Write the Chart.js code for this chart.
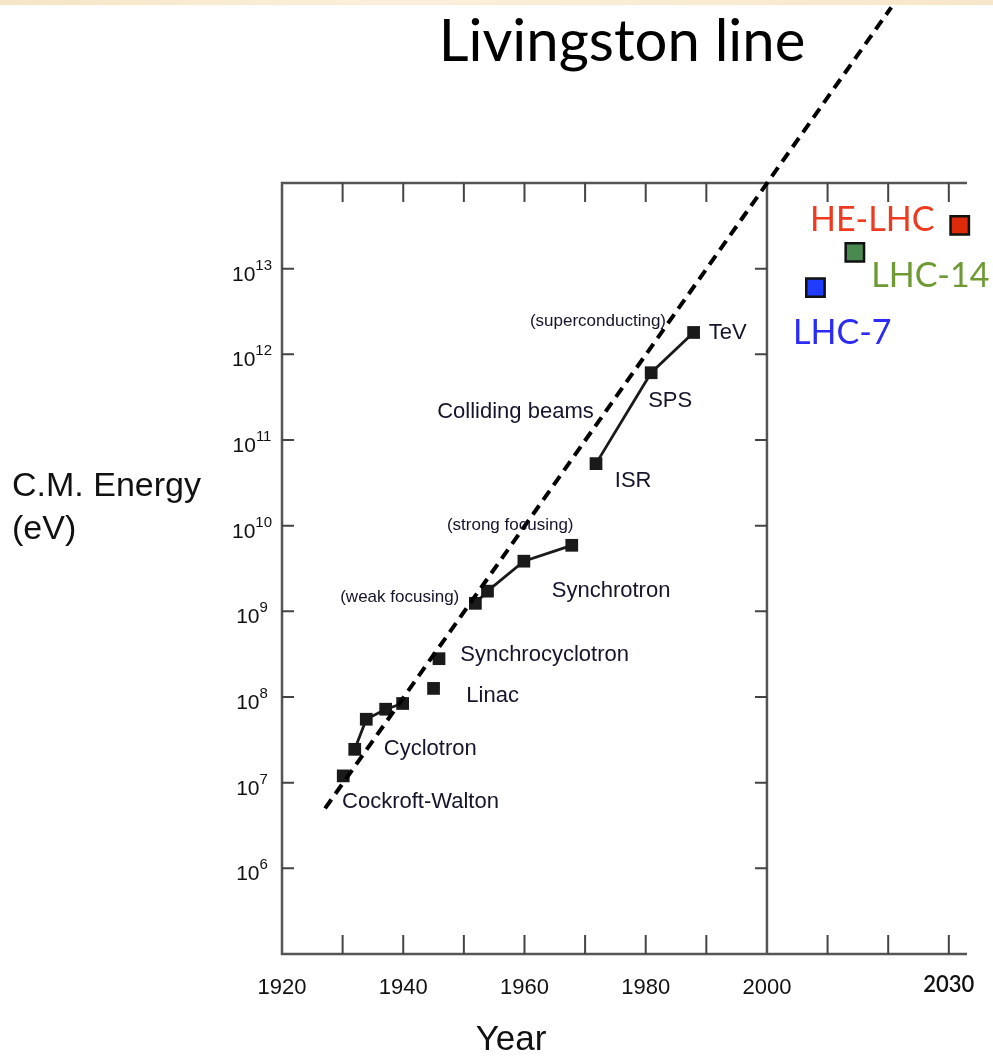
<!DOCTYPE html>
<html>
<head>
<meta charset="utf-8">
<title>Livingston line</title>
<script src="https://cdn.jsdelivr.net/npm/chart.js@4.4.1/dist/chart.umd.min.js"></script>
<style>
    html, body { margin: 0; padding: 0; background: #fff; }
    #wrap { position: relative; width: 993px; height: 1057px; }
    #paper { position: absolute; left: 0; top: 0; width: 993px; height: 5px;
             background: linear-gradient(90deg, #f6e5c6, #fcf0db 40%, #f7e6c9); }
</style>
</head>
<body>
<div id="wrap">
    <canvas id="livingston" width="993" height="1057"></canvas>
    <div id="paper"></div>
</div>
<script>
// values (year, centre-of-mass energy in eV)
const cockcroftYears = [1930.1];
const cockcroftEnergy = [1.2e7];
const cyclotronYears = [1932.0, 1933.9, 1937.1, 1939.9];
const cyclotronEnergy = [2.45e7, 5.5e7, 7.2e7, 8.4e7];
const linacYears = [1945.0];
const linacEnergy = [1.26e8];
const synchrocyclotronYears = [1945.9];
const synchrocyclotronEnergy = [2.8e8];
const synchrotronYears = [1951.9, 1953.9, 1959.9, 1967.8];
const synchrotronEnergy = [1.24e9, 1.72e9, 3.85e9, 5.9e9];
const collidingYears = [1971.8, 1980.9, 1987.9];
const collidingEnergy = [5.3e10, 6.1e11, 1.8e12];
const lhcNames = ['LHC-7', 'LHC-14', 'HE-LHC'];
const lhcYears = [2008.0, 2014.5, 2031.8];
const lhcEnergy = [6.0e12, 1.55e13, 3.2e13];
const livingstonYears = [1927.1, 2020.5];
const livingstonEnergy = [5.0e6, 1.12e16];

// axes
const yearMin = 1920, yearMax = 2033, yearSplit = 2000;
const energyMin = 1e5, energyMax = 1e14;
const yearTicks = [1930, 1940, 1950, 1960, 1970, 1980, 1990, 2010, 2020, 2030];
const yearLabels = [1920, 1940, 1960, 1980, 2000, 2030];
const energyExponents = [6, 7, 8, 9, 10, 11, 12, 13];

// text labels, anchored in data coordinates (left edge, vertical middle)
const labelTexts = ['Cockroft-Walton', 'Cyclotron', 'Linac', 'Synchrocyclotron', '(weak focusing)',
    'Synchrotron', '(strong focusing)', 'ISR', 'Colliding beams', 'SPS', '(superconducting)', 'TeV'];
const labelYears = [1929.9, 1936.8, 1950.4, 1949.4, 1929.6, 1964.5, 1947.2, 1974.9, 1945.6, 1980.4, 1960.9, 1990.4];
const labelEnergy = [6.0e6, 2.5e7, 1.02e8, 3.1e8, 1.45e9, 1.72e9, 1.0e10, 3.3e10, 2.1e11, 2.85e11, 2.4e12, 1.78e12];
const lhcLabelYears = [2004.3, 2017.2, 2007.1];
const lhcLabelEnergy = [1.78e12, 8.2e12, 3.7e13];

const lhcFill = ['#1f3cff', '#4a8a50', '#dd2a0a'];
const lhcText = ['#2b2bf2', '#6e9a34', '#ee3a1e'];
const ink = '#1a1a1a';
const sans = '"Liberation Sans", Arial, Helvetica, sans-serif';

const points = (years, energy) => years.map((yr, i) => ({ x: yr, y: energy[i] }));

function accelerator(years, energy, joined) {
    return {
        data: points(years, energy),
        showLine: joined,
        borderColor: ink,
        borderWidth: 2.8,
        pointStyle: 'rect',
        pointRadius: 9,
        pointBackgroundColor: ink,
        pointBorderWidth: 0
    };
}

const frame = {
    id: 'frame',
    beforeDatasetsDraw(chart) {
        const { ctx, scales: { x, y } } = chart;
        const left = x.getPixelForValue(yearMin);
        const mid = x.getPixelForValue(yearSplit);
        const right = x.getPixelForValue(yearMax);
        const top = y.getPixelForValue(energyMax);
        const bottom = y.getPixelForValue(energyMin);
        ctx.save();
        ctx.strokeStyle = '#555';
        ctx.lineWidth = 2.5;
        ctx.beginPath();
        ctx.moveTo(right, top);
        ctx.lineTo(left, top);
        ctx.lineTo(left, bottom);
        ctx.lineTo(right, bottom);
        ctx.moveTo(mid, top);
        ctx.lineTo(mid, bottom);
        ctx.stroke();

        ctx.strokeStyle = '#444';
        ctx.lineWidth = 2;
        ctx.beginPath();
        yearTicks.forEach(yr => {
            const px = x.getPixelForValue(yr);
            ctx.moveTo(px, top); ctx.lineTo(px, top + 19);
            ctx.moveTo(px, bottom); ctx.lineTo(px, bottom - 19);
        });
        energyExponents.forEach(e => {
            const py = y.getPixelForValue(Math.pow(10, e));
            ctx.moveTo(left, py); ctx.lineTo(left + 12, py);
            ctx.moveTo(mid, py); ctx.lineTo(mid - 12, py);
        });
        ctx.stroke();
        ctx.restore();
    },
    afterDraw(chart) {
        const { ctx, scales: { x, y } } = chart;
        ctx.save();
        ctx.fillStyle = '#111';
        ctx.textBaseline = 'alphabetic';

        // y tick labels 10^n
        energyExponents.forEach(e => {
            const py = y.getPixelForValue(Math.pow(10, e));
            ctx.font = '21px ' + sans;
            const wBase = ctx.measureText('10').width;
            ctx.font = '15px ' + sans;
            const wExp = ctx.measureText(String(e)).width;
            const start = 252 - (wBase + wExp) / 2;
            ctx.font = '21px ' + sans;
            ctx.textAlign = 'left';
            ctx.fillText('10', start, py + 12);
            ctx.font = '15px ' + sans;
            ctx.fillText(String(e), start + wBase, py + 1);
        });

        // x tick labels
        ctx.textAlign = 'center';
        ctx.textBaseline = 'middle';
        yearLabels.forEach(yr => {
            ctx.font = yr > yearSplit ? '600 22px Lato, sans-serif' : '22px ' + sans;
            ctx.fillText(String(yr), x.getPixelForValue(yr), yr > yearSplit ? 985 : 988);
        });

        // axis titles
        ctx.font = '35px ' + sans;
        ctx.fillText('Year', 511, 1040);
        ctx.textAlign = 'left';
        ctx.font = '34px ' + sans;
        ctx.fillText('C.M. Energy', 12, 487);
        ctx.fillText('(eV)', 12, 530);

        // chart title
        ctx.font = '58px Lato, sans-serif';
        ctx.fillStyle = '#000';
        ctx.textAlign = 'center';
        ctx.textBaseline = 'alphabetic';
        ctx.fillText('Livingston line', 622, 61);

        // accelerator labels
        ctx.textAlign = 'left';
        ctx.textBaseline = 'middle';
        ctx.fillStyle = '#14142a';
        labelTexts.forEach((t, i) => {
            ctx.font = (t.startsWith('(') ? '17px ' : '22px ') + sans;
            ctx.fillText(t, x.getPixelForValue(labelYears[i]), y.getPixelForValue(labelEnergy[i]));
        });

        // LHC labels
        ctx.font = '34px Lato, sans-serif';
        lhcNames.forEach((t, i) => {
            ctx.fillStyle = lhcText[i];
            ctx.fillText(t, x.getPixelForValue(lhcLabelYears[i]), y.getPixelForValue(lhcLabelEnergy[i]));
        });
        ctx.restore();
    }
};

class LivingstonChart {
    constructor(canvasId) {
        this.canvas = document.getElementById(canvasId);
        this.chart = null;
        this.render();
    }

    datasets() {
        const sets = [{
            data: points(livingstonYears, livingstonEnergy),
            showLine: true,
            borderColor: '#000',
            borderWidth: 4,
            borderDash: [11, 7],
            pointRadius: 0,
            clip: false
        }];
        sets.push(accelerator(cockcroftYears, cockcroftEnergy, false));
        sets.push(accelerator(cyclotronYears, cyclotronEnergy, true));
        sets.push(accelerator(linacYears, linacEnergy, false));
        sets.push(accelerator(synchrocyclotronYears, synchrocyclotronEnergy, false));
        sets.push(accelerator(synchrotronYears, synchrotronEnergy, true));
        sets.push(accelerator(collidingYears, collidingEnergy, true));
        lhcNames.forEach((name, i) => {
            sets.push({
                label: name,
                data: [{ x: lhcYears[i], y: lhcEnergy[i] }],
                pointStyle: 'rect',
                pointRadius: 13,
                pointBackgroundColor: lhcFill[i],
                pointBorderColor: '#111',
                pointBorderWidth: 2.5,
                clip: false
            });
        });
        return sets;
    }

    render() {
        this.chart = new Chart(this.canvas.getContext('2d'), {
            type: 'scatter',
            data: { datasets: this.datasets() },
            options: {
                responsive: false,
                animation: false,
                events: [],
                layout: { padding: { left: 282, top: 183, right: 26, bottom: 103 } },
                scales: {
                    x: { type: 'linear', min: yearMin, max: yearMax, display: false },
                    y: { type: 'logarithmic', min: energyMin, max: energyMax, display: false }
                },
                plugins: {
                    legend: { display: false },
                    tooltip: { enabled: false }
                }
            },
            plugins: [frame]
        });
    }
}

document.addEventListener('DOMContentLoaded', () => {
    new LivingstonChart('livingston');
});
</script>
</body>
</html>
